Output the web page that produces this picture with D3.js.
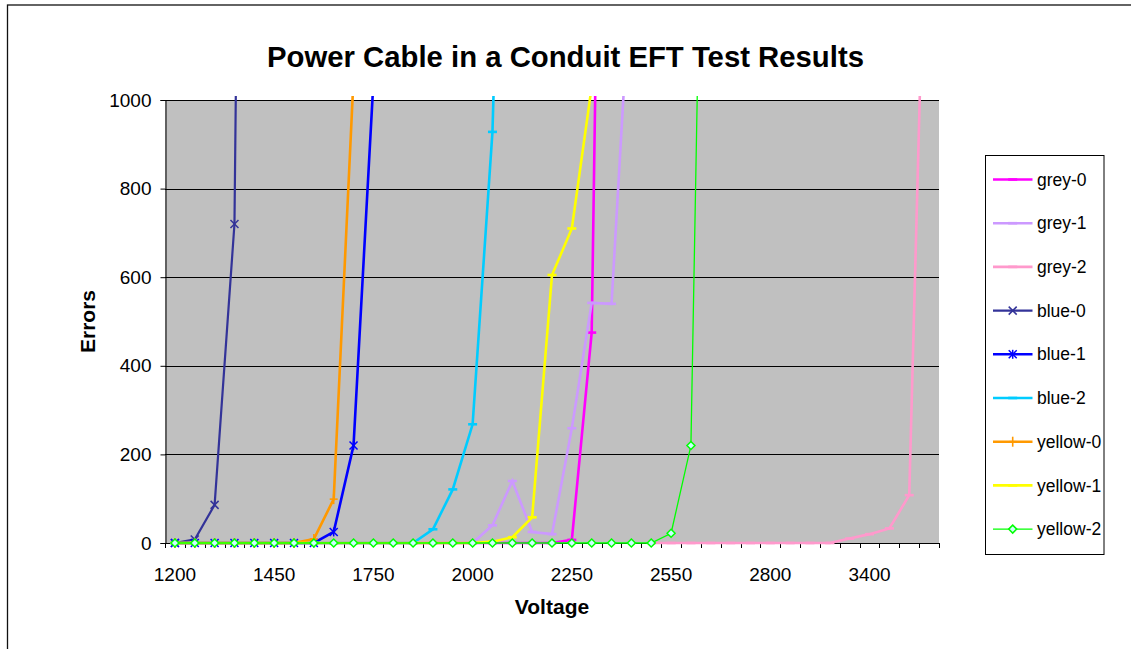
<!DOCTYPE html>
<html>
<head>
<meta charset="utf-8">
<script src="https://cdn.jsdelivr.net/npm/d3@7"></script>
<style>
  html, body { margin: 0; padding: 0; background: #fff; }
  svg { display: block; font-family: "Liberation Sans", Arial, sans-serif; }
</style>
</head>
<body>
<svg id="chart" width="1131" height="649"></svg>
<script>
// ---------- DATA ----------
const categories = ["1200","1250","1300","1350","1400","1450","1500","1550","1600","1700",
  "1750","1800","1850","1900","1950","2000","2050","2100","2150","2200",
  "2250","2300","2350","2400","2500","2550","2600","2650","2700","2750",
  "2800","2900","3000","3100","3200","3400","3500","3600","3700"];
const labelCategories = ["1200","1450","1750","2000","2250","2550","2800","3400"];
const yTicks = [0, 200, 400, 600, 800, 1000];
const seriesNames = ["grey-0","grey-1","grey-2","blue-0","blue-1","blue-2","yellow-0","yellow-1","yellow-2"];

// values by category index (null = no point)
const grey0   = [0,0,0,0,0,0,0,0,0,0, 0,0,0,0,0,0,0,0,0,0, 7,475,3500];
const grey1   = [0,0,0,0,0,0,0,0,0,0, 0,0,0,0,0,0,40,140,25,20, 259,542,540,1320];
const grey2   = [null,null,null,null,null,null,null,null,null,null, null,null,null,null,null,null,null,null,null,null,
                 null,null,null,null,0,0,0,0,0,0, 0,0,0,0,10,20,33,108,1800];
const blue0   = [0,8,86,720,5000];
const blue1   = [0,0,0,0,0,0,0,0,25,220,1040];
const blue2   = [0,0,0,0,0,0,0,0,0,0, 0,0,0,31,121,268,928,2500];
const yellow0 = [0,0,0,0,0,0,0,9,99,1050];
const yellow1 = [0,0,0,0,0,0,0,0,0,0, 0,0,0,0,0,0,3,13,58,605, 710,1030];
const yellow2 = [0,0,0,0,0,0,0,0,0,0, 0,0,0,0,0,0,0,0,0,0, 0,0,0,0,0,22,220,2700];

const seriesValues = [grey0, grey1, grey2, blue0, blue1, blue2, yellow0, yellow1, yellow2];
const seriesColors = ["#FF00FF","#CC99FF","#FF99CC","#333399","#0000FF","#00CCFF","#FF9900","#FFFF00","#00FF00"];
const seriesMarkers = ["dash","dash","dash","x","asterisk","dash","plus","dash","diamond"];
const seriesWidths = [2.6,2.6,2.6,2.2,2.6,2.6,2.6,2.6,1.3];

// ---------- LAYOUT ----------
const svg = d3.select("#chart");
const plot = { left: 165, right: 939, top: 100, bottom: 543 };

const x = d3.scaleBand().domain(categories).range([plot.left, plot.right]).padding(0);
const xc = c => x(c) + x.bandwidth() / 2;
const y = d3.scaleLinear().domain([0, 1000]).range([plot.bottom, plot.top]);

// outer frame
svg.append("rect")
  .attr("x", 7.5).attr("y", 5).attr("width", 1200).attr("height", 800)
  .attr("fill", "#fff").attr("stroke", "#111").attr("stroke-width", 1.3);

// plot background
svg.append("rect")
  .attr("x", plot.left).attr("y", plot.top)
  .attr("width", plot.right - plot.left).attr("height", plot.bottom - plot.top)
  .attr("fill", "#C0C0C0");

// gridlines
svg.append("g").selectAll("line").data(yTicks.filter(t => t > 0)).join("line")
  .attr("x1", plot.left).attr("x2", plot.right)
  .attr("y1", d => Math.round(y(d)) + 0.5).attr("y2", d => Math.round(y(d)) + 0.5)
  .attr("stroke", "#000").attr("stroke-width", 1);

// title
svg.append("text")
  .attr("x", 565.5).attr("y", 67)
  .attr("text-anchor", "middle")
  .attr("font-size", 29.3).attr("font-weight", "bold")
  .text("Power Cable in a Conduit EFT Test Results");

// y axis
const yAxis = d3.axisLeft(y).tickValues(yTicks).tickSize(5).tickPadding(9).tickFormat(d3.format("d"));
const gy = svg.append("g").attr("transform", `translate(${plot.left + 0.5},0)`).call(yAxis);
gy.select(".domain").attr("stroke", "#000");
gy.selectAll(".tick line").attr("stroke", "#000");
gy.selectAll(".tick text").attr("font-size", 19).attr("fill", "#000")
  .attr("font-family", "'Liberation Sans', Arial, sans-serif");

// x axis: labels every 5th category
const xAxis = d3.axisBottom(x).tickValues(labelCategories).tickSize(0).tickPadding(24);
const gx = svg.append("g").attr("transform", `translate(0,${plot.bottom + 0.5})`).call(xAxis);
gx.select(".domain").remove();
gx.selectAll(".tick text").attr("font-size", 19).attr("fill", "#000")
  .attr("font-family", "'Liberation Sans', Arial, sans-serif");
// x tick marks at category boundaries
const boundaries = categories.map(c => x(c)).concat([x(categories[categories.length - 1]) + x.bandwidth()]);
svg.append("g").selectAll("line").data(boundaries).join("line")
  .attr("x1", d => Math.round(d) + 0.5).attr("x2", d => Math.round(d) + 0.5)
  .attr("y1", plot.bottom).attr("y2", plot.bottom + 5)
  .attr("stroke", "#000").attr("stroke-width", 1);
svg.append("line")
  .attr("x1", plot.left).attr("x2", plot.right)
  .attr("y1", plot.bottom + 0.5).attr("y2", plot.bottom + 0.5)
  .attr("stroke", "#000");

// axis titles
svg.append("text")
  .attr("x", 552).attr("y", 614)
  .attr("text-anchor", "middle").attr("font-size", 21).attr("font-weight", "bold")
  .text("Voltage");
svg.append("text")
  .attr("transform", `translate(94.5,${(plot.top + plot.bottom) / 2}) rotate(-90)`)
  .attr("text-anchor", "middle").attr("font-size", 21).attr("font-weight", "bold")
  .text("Errors");

// ---------- MARKERS ----------
function drawMarker(g, type, color, cx, cy) {
  const s = 4;
  if (type === "dash") {
    g.append("line").attr("x1", cx - 4.5).attr("x2", cx + 4.5).attr("y1", cy).attr("y2", cy)
      .attr("stroke", color).attr("stroke-width", 2.6);
  } else if (type === "x" || type === "asterisk") {
    g.append("line").attr("x1", cx - s).attr("x2", cx + s).attr("y1", cy - s).attr("y2", cy + s)
      .attr("stroke", color).attr("stroke-width", 1.5);
    g.append("line").attr("x1", cx - s).attr("x2", cx + s).attr("y1", cy + s).attr("y2", cy - s)
      .attr("stroke", color).attr("stroke-width", 1.5);
    if (type === "asterisk") {
      g.append("line").attr("x1", cx).attr("x2", cx).attr("y1", cy - s - 0.5).attr("y2", cy + s + 0.5)
        .attr("stroke", color).attr("stroke-width", 1.5);
    }
  } else if (type === "plus") {
    g.append("line").attr("x1", cx - s).attr("x2", cx + s).attr("y1", cy).attr("y2", cy)
      .attr("stroke", color).attr("stroke-width", 1.6);
    g.append("line").attr("x1", cx).attr("x2", cx).attr("y1", cy - s - 1).attr("y2", cy + s + 1)
      .attr("stroke", color).attr("stroke-width", 1.6);
  } else if (type === "diamond") {
    const r = 4;
    g.append("path")
      .attr("d", `M${cx},${cy - r}L${cx + r},${cy}L${cx},${cy + r}L${cx - r},${cy}Z`)
      .attr("fill", "#CCFFFF").attr("stroke", color).attr("stroke-width", 1.5);
  }
}

// ---------- SERIES ----------
svg.append("defs").append("clipPath").attr("id", "plotclip")
  .append("rect").attr("x", plot.left).attr("y", plot.top - 4)
  .attr("width", plot.right - plot.left).attr("height", plot.bottom - plot.top + 12);

const gSeries = svg.append("g").attr("clip-path", "url(#plotclip)");
const line = d3.line()
  .defined(d => d.v != null)
  .x(d => xc(d.c)).y(d => y(d.v));

seriesNames.forEach((name, i) => {
  const pts = seriesValues[i].map((v, k) => ({ c: categories[k], v: v }));
  const g = gSeries.append("g");
  g.append("path").datum(pts)
    .attr("d", line)
    .attr("fill", "none").attr("stroke", seriesColors[i])
    .attr("stroke-width", seriesWidths[i]).attr("stroke-linejoin", "miter");
  pts.filter(p => p.v != null).forEach(p => drawMarker(g, seriesMarkers[i], seriesColors[i], xc(p.c), y(p.v)));
});

// ---------- LEGEND ----------
const legend = svg.append("g");
legend.append("rect")
  .attr("x", 985.5).attr("y", 155.5).attr("width", 118.5).attr("height", 399)
  .attr("fill", "#fff").attr("stroke", "#000").attr("stroke-width", 1);
seriesNames.forEach((name, i) => {
  const ly = 179.5 + i * 43.7;
  const g = legend.append("g");
  g.append("line").attr("x1", 993).attr("x2", 1032.5).attr("y1", ly).attr("y2", ly)
    .attr("stroke", seriesColors[i]).attr("stroke-width", seriesWidths[i]);
  drawMarker(g, seriesMarkers[i], seriesColors[i], 1012.7, ly);
  g.append("text").attr("x", 1037).attr("y", ly).attr("dy", "0.35em")
    .attr("font-size", 17.5).text(name);
});
</script>
</body>
</html>
